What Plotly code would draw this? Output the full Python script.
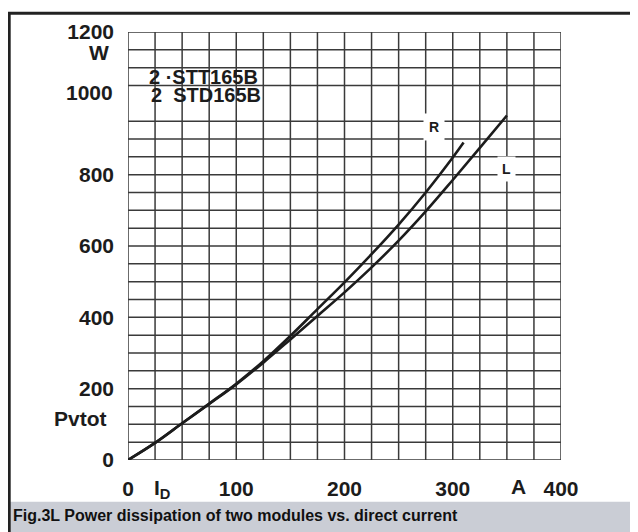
import plotly.graph_objects as go

# ---- data ----
current_R = [0, 25, 50, 75, 100, 125, 150, 175, 200, 225, 250, 275, 300, 310]
power_R = [0, 48, 103, 158, 214, 277, 348, 423, 498, 577, 660, 750, 848, 890]
current_L = [0, 25, 50, 75, 100, 125, 150, 175, 200, 225, 250, 275, 300, 325, 350]
power_L = [0, 48, 103, 157, 212, 273, 338, 404, 470, 540, 615, 697, 785, 875, 966]

x_ticks = [0, 100, 200, 300, 400]
y_ticks = [0, 200, 400, 600, 800, 1200]
x_grid = list(range(0, 401, 25))
y_grid = [v for v in range(0, 1201, 50) if v != 1000]

# the page body adds an 8px offset, so the figure is laid out in screen pixels minus 8
OFF = 8
W, H = 638 - OFF, 532 - OFF
SL, SR, ST, SB = 128, 561, 29, 460  # plot area in screen pixels
L0, R0, T0, B0 = SL - OFF, SR - OFF, ST - OFF, SB - OFF


def px(x):
    """screen x pixel -> paper coordinate"""
    return (x - SL) / (SR - SL)


def py(y):
    """screen y pixel -> paper coordinate"""
    return (SB - y) / (SB - ST)


FONT = "Liberation Sans, Arial, sans-serif"
INK = "#1c1c1c"
GRID = "#3a3a3a"

fig = go.Figure()
fig.add_trace(go.Scatter(x=current_R, y=power_R, mode="lines", line=dict(color=INK, width=2.6, shape="spline"),
                         showlegend=False, hoverinfo="skip"))
fig.add_trace(go.Scatter(x=current_L, y=power_L, mode="lines", line=dict(color=INK, width=2.6, shape="spline"),
                         showlegend=False, hoverinfo="skip"))

shapes = []
for v in x_grid:
    shapes.append(dict(type="line", xref="x", yref="y", x0=v, x1=v, y0=0, y1=1200,
                       line=dict(color=GRID, width=1.5), layer="below"))
for v in y_grid:
    shapes.append(dict(type="line", xref="x", yref="y", x0=0, x1=400, y0=v, y1=v,
                       line=dict(color=GRID, width=1.5), layer="below"))

# frame and caption band
shapes.append(dict(type="rect", xref="paper", yref="paper", x0=px(9), x1=px(636), y0=py(502), y1=py(533),
                   fillcolor="#cacdd5", line=dict(width=0), layer="below"))
shapes.append(dict(type="line", xref="paper", yref="paper", x0=px(8), x1=px(638), y0=py(10), y1=py(10),
                   line=dict(color="#222222", width=3)))
shapes.append(dict(type="line", xref="paper", yref="paper", x0=px(9.2), x1=px(9.2), y0=py(9), y1=py(533),
                   line=dict(color="#222222", width=3)))
shapes.append(dict(type="line", xref="paper", yref="paper", x0=px(636), x1=px(636), y0=py(10), y1=py(533),
                   line=dict(color="#9a9a9a", width=1.2)))

bold21 = dict(family=FONT, size=21, color=INK, weight="bold")
annotations = [
    dict(xref="paper", yref="paper", x=px(115), y=py(90), text="1000", showarrow=False,
         xanchor="right", yanchor="middle", font=bold21),
    dict(xref="paper", yref="paper", x=px(111), y=py(50), text="W", showarrow=False,
         xanchor="right", yanchor="middle", font=bold21),
    dict(xref="paper", yref="paper", x=px(109), y=py(418), text="Pvtot", showarrow=False,
         xanchor="right", yanchor="middle", font=bold21),
    dict(xref="paper", yref="paper", x=px(162), y=py(489), text="I<sub>D</sub>", showarrow=False,
         xanchor="center", yanchor="middle", font=bold21),
    dict(xref="paper", yref="paper", x=px(518), y=py(487), text="A", showarrow=False,
         xanchor="center", yanchor="middle", font=bold21),
    dict(xref="paper", yref="paper", x=px(147), y=py(74), text="2 \u00b7STT165B", showarrow=False,
         xanchor="left", yanchor="middle", font=dict(family=FONT, size=20, color=INK, weight="bold")),
    dict(xref="paper", yref="paper", x=px(149), y=py(92), text="2\u00a0\u00a0STD165B", showarrow=False,
         xanchor="left", yanchor="middle", font=dict(family=FONT, size=20, color=INK, weight="bold")),
    dict(xref="paper", yref="paper", x=px(434), y=py(125), text="R", showarrow=False,
         xanchor="center", yanchor="middle", bgcolor="white", borderpad=5,
         font=dict(family=FONT, size=14, color=INK, weight="bold")),
    dict(xref="paper", yref="paper", x=px(506), y=py(167), text="L", showarrow=False,
         xanchor="center", yanchor="middle", bgcolor="white", borderpad=4,
         font=dict(family=FONT, size=14, color=INK, weight="bold")),
    dict(xref="paper", yref="paper", x=px(11), y=py(516), text="Fig.3L Power dissipation of two modules vs. direct current",
         showarrow=False, xanchor="left", yanchor="middle",
         font=dict(family=FONT, size=16, color="#111111", weight="bold")),
]

fig.update_layout(
    width=W, height=H,
    margin=dict(l=L0, r=W - R0, t=T0, b=H - B0, pad=0),
    paper_bgcolor="white", plot_bgcolor="white",
    shapes=shapes, annotations=annotations,
    xaxis=dict(range=[0, 400], showgrid=False, zeroline=False, showline=False, ticks="",
               tickvals=x_ticks, ticktext=[str(v) for v in x_ticks], tickfont=bold21,
               ticklabelstandoff=14, fixedrange=True),
    yaxis=dict(range=[0, 1200], showgrid=False, zeroline=False, showline=False, ticks="",
               tickvals=y_ticks, ticktext=[str(v) for v in y_ticks], tickfont=bold21,
               ticklabelstandoff=13, fixedrange=True),
)

fig.write_html("out.html")
